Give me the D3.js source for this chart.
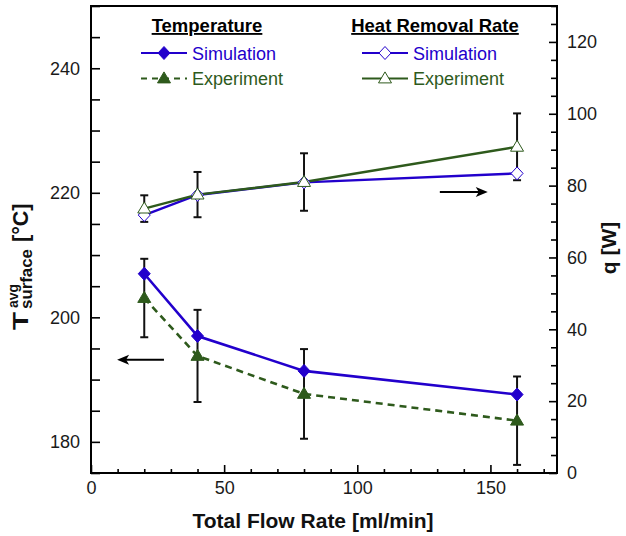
<!DOCTYPE html>
<html>
<head>
<meta charset="utf-8">
<script src="https://cdn.jsdelivr.net/npm/d3@7"></script>
<style>
  html, body { margin: 0; padding: 0; background: #fff; }
  svg { display: block; font-family: "Liberation Sans", Arial, Helvetica, sans-serif; }
</style>
</head>
<body>
<svg id="chart" width="626" height="536"></svg>
<script>
// ---------------- data ----------------
const flowRates = [20, 40, 80, 160];
const tempSim = [207.0, 197.0, 191.4, 187.6];
const tempExp = [203.1, 193.8, 187.7, 183.4];
const tempExpErr = [6.3, 7.4, 7.2, 7.1];
const heatSim = [71.8, 77.4, 80.9, 83.4];
const heatExp = [73.6, 77.5, 81.0, 90.8];
const heatExpErr = [3.7, 6.3, 8.0, 9.3];

const xTicks = [0, 50, 100, 150];
const xMinorTicks = [10, 20, 30, 40, 60, 70, 80, 90, 110, 120, 130, 140, 160, 170];
const yLeftTicks = [180, 200, 220, 240];
const yLeftMinor = [175, 185, 190, 195, 205, 210, 215, 225, 230, 235, 245, 250];
const yRightTicks = [0, 20, 40, 60, 80, 100, 120];
const yRightMinor = [5, 10, 15, 25, 30, 35, 45, 50, 55, 65, 70, 75, 85, 90, 95, 105, 110, 115, 125, 130];

// annotation arrows: [x0, x1, y] in data units
const arrowRight = [131, 149, 78.2];  // points to right axis
const arrowLeft = [27.4, 9.8, 193.2]; // points to left axis

// ---------------- layout ----------------
const BLUE = "#2200cc";
const GREEN = "#2e5a1c";
const mLeft = 91, mRight = 557, mTop = 6, mBottom = 473;

const svg = d3.select("#chart");
const x = d3.scaleLinear().domain([0, 175]).range([mLeft, mRight]);
const yL = d3.scaleLinear().domain([175, 250]).range([mBottom, mTop]);
const yR = d3.scaleLinear().domain([0, 130]).range([mBottom, mTop]);

// ---------------- axes ----------------
function styleAxis(g) {
  g.select(".domain").remove();
  g.selectAll(".tick line").attr("stroke", "#000").attr("stroke-width", 1.6);
  g.selectAll(".tick text").attr("fill", "#1a1a1a").style("font-size", "18px")
    .style("font-family", "'Liberation Sans', Arial, sans-serif");
}

svg.append("g").attr("transform", `translate(0,${mBottom})`)
  .call(d3.axisBottom(x).tickValues(xTicks).tickFormat(d3.format("d")).tickSize(-8).tickPadding(8))
  .call(styleAxis);
svg.append("g").attr("transform", `translate(0,${mBottom})`)
  .call(d3.axisBottom(x).tickValues(xMinorTicks).tickFormat("").tickSize(-4))
  .call(styleAxis);

svg.append("g").attr("transform", `translate(${mLeft},0)`)
  .call(d3.axisLeft(yL).tickValues(yLeftTicks).tickFormat(d3.format("d")).tickSize(-9).tickPadding(11))
  .call(styleAxis);
svg.append("g").attr("transform", `translate(${mLeft},0)`)
  .call(d3.axisLeft(yL).tickValues(yLeftMinor).tickFormat("").tickSize(-9))
  .call(styleAxis);

svg.append("g").attr("transform", `translate(${mRight},0)`)
  .call(d3.axisRight(yR).tickValues(yRightTicks).tickFormat(d3.format("d")).tickSize(-8).tickPadding(10))
  .call(styleAxis);
svg.append("g").attr("transform", `translate(${mRight},0)`)
  .call(d3.axisRight(yR).tickValues(yRightMinor).tickFormat("").tickSize(-6))
  .call(styleAxis);

// frame
svg.append("rect").attr("x", mLeft).attr("y", mTop).attr("width", mRight - mLeft).attr("height", mBottom - mTop)
  .attr("fill", "none").attr("stroke", "#000").attr("stroke-width", 2);

// ---------------- error bars ----------------
function errorBars(ys, vals, errs) {
  const g = svg.append("g").attr("stroke", "#111").attr("stroke-width", 2);
  flowRates.forEach((fr, i) => {
    const cx = x(fr), y1 = ys(vals[i] + errs[i]), y2 = ys(vals[i] - errs[i]);
    g.append("line").attr("x1", cx).attr("x2", cx).attr("y1", y1).attr("y2", y2);
    g.append("line").attr("x1", cx - 4).attr("x2", cx + 4).attr("y1", y1).attr("y2", y1);
    g.append("line").attr("x1", cx - 4).attr("x2", cx + 4).attr("y1", y2).attr("y2", y2);
  });
}
errorBars(yL, tempExp, tempExpErr);
errorBars(yR, heatExp, heatExpErr);

// ---------------- lines ----------------
function drawLine(ys, vals, color, width, dash) {
  const line = d3.line().x((d, i) => x(flowRates[i])).y(d => ys(d));
  svg.append("path").datum(vals).attr("d", line).attr("fill", "none")
    .attr("stroke", color).attr("stroke-width", width)
    .attr("stroke-dasharray", dash || null);
}
drawLine(yL, tempExp, GREEN, 2.6, "7,5");
drawLine(yL, tempSim, BLUE, 2.6);
drawLine(yR, heatSim, BLUE, 2.4);
drawLine(yR, heatExp, GREEN, 2.4);

// ---------------- markers ----------------
function diamondPath(cx, cy, w, h) {
  return `M${cx},${cy - h}L${cx + w},${cy}L${cx},${cy + h}L${cx - w},${cy}Z`;
}
function trianglePath(cx, cy, w, h) {
  return `M${cx},${cy - h * 0.6}L${cx + w},${cy + h * 0.4}L${cx - w},${cy + h * 0.4}Z`;
}
function markers(ys, vals, kind, fill, stroke) {
  svg.append("g").selectAll("path").data(vals).join("path")
    .attr("d", (d, i) => kind === "d"
      ? diamondPath(x(flowRates[i]), ys(d), 6, 6.5)
      : trianglePath(x(flowRates[i]), ys(d), 6.5, 11))
    .attr("fill", fill).attr("stroke", stroke).attr("stroke-width", 1);
}
markers(yL, tempExp, "t", GREEN, GREEN);
markers(yL, tempSim, "d", BLUE, BLUE);
markers(yR, heatSim, "d", "#fff", BLUE);
markers(yR, heatExp, "t", "#fff", GREEN);

// ---------------- arrows ----------------
function arrow(ys, a) {
  const x0 = x(a[0]), x1 = x(a[1]), yy = ys(a[2]);
  const dir = Math.sign(x1 - x0);
  svg.append("line").attr("x1", x0).attr("x2", x1 - dir * 8).attr("y1", yy).attr("y2", yy)
    .attr("stroke", "#000").attr("stroke-width", 2);
  svg.append("path").attr("d", `M${x1},${yy}L${x1 - dir * 12},${yy - 5}L${x1 - dir * 9},${yy}L${x1 - dir * 12},${yy + 5}Z`)
    .attr("fill", "#000");
}
arrow(yR, arrowRight);
arrow(yL, arrowLeft);

// ---------------- legend ----------------
const leg = svg.append("g");
leg.append("text").attr("x", 207).attr("y", 32).attr("text-anchor", "middle")
  .style("font-size", "18.5px").style("font-weight", "bold").style("text-decoration", "underline")
  .text("Temperature");
leg.append("text").attr("x", 435).attr("y", 32).attr("text-anchor", "middle")
  .style("font-size", "18.5px").style("font-weight", "bold").style("text-decoration", "underline")
  .text("Heat Removal Rate");

function legendRow(x0, yy, color, dash, kind, fill, label, width) {
  leg.append("line").attr("x1", x0).attr("x2", x0 + 46).attr("y1", yy).attr("y2", yy)
    .attr("stroke", color).attr("stroke-width", width).attr("stroke-dasharray", dash || null);
  const cx = x0 + 23;
  leg.append("path").attr("d", kind === "d" ? diamondPath(cx, yy, 6, 6.5) : trianglePath(cx, yy, 6.5, 11))
    .attr("fill", fill).attr("stroke", color).attr("stroke-width", 1);
  leg.append("text").attr("x", x0 + 51).attr("y", yy + 6.5).attr("fill", color)
    .style("font-size", "18px").text(label);
}
legendRow(141, 53, BLUE, null, "d", BLUE, "Simulation", 2.2);
legendRow(141, 78.5, GREEN, "6,5", "t", GREEN, "Experiment", 2.2);
legendRow(362, 53, BLUE, null, "d", "#fff", "Simulation", 2);
legendRow(362, 78.5, GREEN, null, "t", "#fff", "Experiment", 2);

// ---------------- axis titles ----------------
svg.append("text").attr("x", 313).attr("y", 528).attr("text-anchor", "middle")
  .style("font-size", "21px").style("font-weight", "bold").attr("fill", "#111")
  .text("Total Flow Rate [ml/min]");

svg.append("text").attr("transform", "translate(616,248) rotate(-90)").attr("text-anchor", "middle")
  .style("font-size", "21px").style("font-weight", "bold").attr("fill", "#111")
  .text("q [W]");

const yt = svg.append("g").attr("transform", "translate(28,330) rotate(-90)")
  .style("font-weight", "bold").attr("fill", "#111");
yt.append("text").attr("x", 0).attr("y", 0).style("font-size", "22px").attr("textLength", 18)
  .attr("lengthAdjust", "spacingAndGlyphs").text("T");
yt.append("text").attr("x", 22).attr("y", -10).style("font-size", "14px").text("avg");
yt.append("text").attr("x", 21).attr("y", 4).style("font-size", "16px").attr("textLength", 60)
  .attr("lengthAdjust", "spacingAndGlyphs").text("surface");
yt.append("text").attr("x", 88).attr("y", 0).style("font-size", "21.5px").text("[°C]");
</script>
</body>
</html>
